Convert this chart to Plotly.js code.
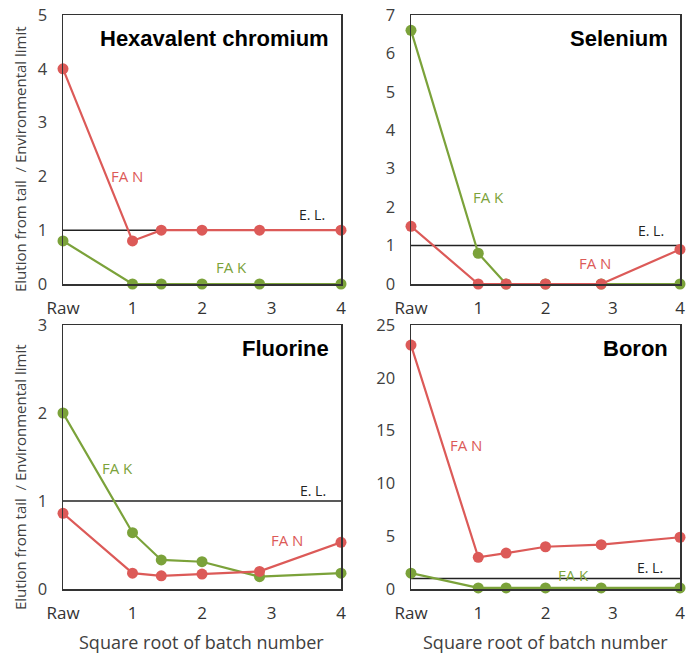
<!DOCTYPE html>
<html>
<head>
<meta charset="utf-8">
<script src="https://cdn.plot.ly/plotly-3.0.1.min.js"></script>
<style>html,body{margin:0;padding:0;background:#fff;}#chart{width:693px;height:657px;}</style>
</head>
<body>
<div id="chart"></div>
<script>
// x positions: Raw, then square root of batch number (batches 1, 2, 4, 8, 16)
const xPositions = [0, 1, 1.414, 2, 2.828, 4];
const xTickVals = [0, 1, 2, 3, 4];
const xTickText = ['Raw', '1', '2', '3', '4'];
const elLimit = 1;

const panelNames = ['Hexavalent chromium', 'Selenium', 'Fluorine', 'Boron'];
const yMax = [5, 7, 3, 25];
const yTicks = [[0,1,2,3,4,5],[0,1,2,3,4,5,6,7],[0,1,2,3],[0,5,10,15,20,25]];

const chromiumFAN = [4.0, 0.8, 1.0, 1.0, 1.0, 1.0];
const chromiumFAK = [0.8, 0, 0, 0, 0, 0];
const seleniumFAN = [1.5, 0, 0, 0, 0, 0.9];
const seleniumFAK = [6.6, 0.8, 0, 0, 0, 0];
const fluorineFAN = [0.86, 0.18, 0.15, 0.17, 0.2, 0.53];
const fluorineFAK = [2.0, 0.64, 0.33, 0.31, 0.14, 0.18];
const boronFAN = [23.1, 3.0, 3.4, 4.0, 4.2, 4.9];
const boronFAK = [1.5, 0.1, 0.1, 0.1, 0.1, 0.1];

const fanSeries = [chromiumFAN, seleniumFAN, fluorineFAN, boronFAN];
const fakSeries = [chromiumFAK, seleniumFAK, fluorineFAK, boronFAK];

// label positions (data coordinates) for FA N, FA K, E.L.
const fanLabelPos = [[0.92, 2.0], [2.74, 0.54], [3.22, 0.56], [0.82, 13.6]];
const fakLabelPos = [[2.43, 0.32], [1.15, 2.26], [0.78, 1.375], [2.41, 1.3]];
const elLabelPos = [[3.58, 1.3], [3.57, 1.4], [3.6, 1.12], [3.56, 2.0]];

const RED = '#dc5a58';
const GREEN = '#7ba23a';
const W = 693, H = 657;
const boxes = [
  {x0: 63, x1: 341, y0: 15, y1: 284},
  {x0: 411, x1: 680, y0: 15, y1: 284},
  {x0: 63, x1: 341, y0: 325, y1: 589},
  {x0: 411, x1: 680, y0: 325, y1: 589}
];

const traces = [];
const layout = {
  width: W, height: H,
  margin: {l: 0, r: 0, t: 0, b: 0},
  paper_bgcolor: '#fff', plot_bgcolor: '#fff',
  showlegend: false,
  font: {family: 'Open Sans, sans-serif', color: '#404040'},
  annotations: []
};

for (let i = 0; i < 4; i++) {
  const s = i === 0 ? '' : String(i + 1);
  const xa = 'x' + s, ya = 'y' + s;
  const b = boxes[i];
  layout['xaxis' + s] = {
    domain: [b.x0 / W, b.x1 / W], anchor: ya, range: [0, 4],
    tickvals: xTickVals, ticktext: xTickText, ticks: '', ticklabelstandoff: 8,
    showgrid: false, zeroline: false, showline: true, mirror: true,
    linecolor: '#333', linewidth: 1.5,
    tickfont: {size: 17, color: '#333', family: 'Open Sans, sans-serif'}
  };
  layout['yaxis' + s] = {
    domain: [1 - b.y1 / H, 1 - b.y0 / H], anchor: xa, range: [0, yMax[i]],
    tickvals: yTicks[i], ticks: '', ticklabelstandoff: 11,
    showgrid: false, zeroline: false, showline: true, mirror: true,
    linecolor: '#333', linewidth: 1.5,
    tickfont: {size: 16.5, color: '#404040', family: 'Open Sans, sans-serif'}
  };
  traces.push({x: [0, 4], y: [elLimit, elLimit], xaxis: xa, yaxis: ya, mode: 'lines',
    line: {color: '#222', width: 1.5}, hoverinfo: 'skip', cliponaxis: false});
  const order = [[fakSeries[i], GREEN], [fanSeries[i], RED]];
  if (i === 0) order.reverse();
  order.forEach(([vals, col]) => {
    traces.push({x: xPositions, y: vals, xaxis: xa, yaxis: ya, mode: 'lines+markers',
      line: {color: col, width: 2.2}, marker: {color: col, size: 11}, cliponaxis: false});
  });
  // panel title
  layout.annotations.push({xref: 'paper', yref: 'paper', x: (b.x1 - 10) / W, y: 1 - (b.y0 + 23) / H,
    xanchor: 'right', yanchor: 'middle', showarrow: false, text: panelNames[i],
    font: {family: 'Liberation Sans, Arial, sans-serif', size: 22, color: '#000', weight: 'bold'}});
  layout.annotations.push({xref: xa, yref: ya, x: fanLabelPos[i][0], y: fanLabelPos[i][1], showarrow: false,
    text: 'FA N', font: {size: 15, color: RED}});
  layout.annotations.push({xref: xa, yref: ya, x: fakLabelPos[i][0], y: fakLabelPos[i][1], showarrow: false,
    text: 'FA K', font: {size: 15, color: GREEN}});
  layout.annotations.push({xref: xa, yref: ya, x: elLabelPos[i][0], y: elLabelPos[i][1], showarrow: false,
    text: 'E. L.', font: {size: 14, color: '#222'}});
}

// y-axis titles (left column only)
[[20, 159], [20, 477]].forEach(([px, py]) => {
  layout.annotations.push({xref: 'paper', yref: 'paper', x: px / W, y: 1 - py / H, textangle: -90,
    showarrow: false, xanchor: 'center', yanchor: 'middle',
    text: 'Elution from tail  / Environmental limit', font: {size: 15, color: '#404040'}});
});
// x-axis titles (bottom row)
[[202, 642], [545, 642]].forEach(([px, py]) => {
  layout.annotations.push({xref: 'paper', yref: 'paper', x: px / W, y: 1 - py / H,
    showarrow: false, xanchor: 'center', yanchor: 'middle',
    text: 'Square root of batch number', font: {size: 18, color: '#404040'}});
});

Plotly.newPlot('chart', traces, layout, {staticPlot: true});
</script>
</body>
</html>
